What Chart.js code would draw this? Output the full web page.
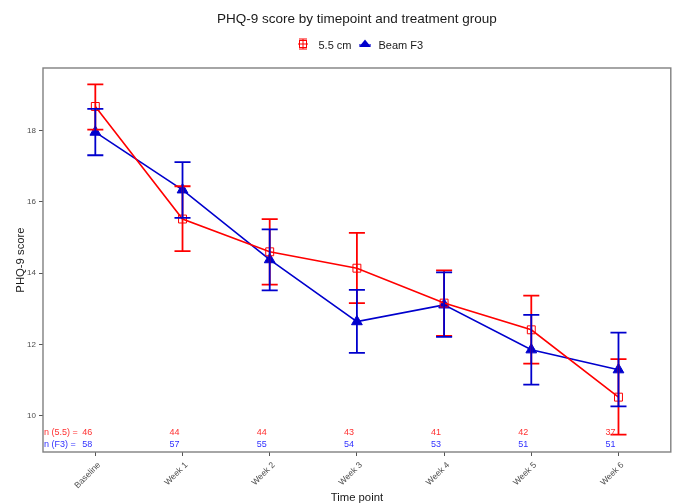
<!DOCTYPE html>
<html><head><meta charset="utf-8">
<script src="https://cdn.jsdelivr.net/npm/chart.js@4.4.1/dist/chart.umd.min.js"></script>
<style>html,body{margin:0;padding:0;background:#fff}#wrap{width:678px;height:503px}</style>
</head><body><div id="wrap"><canvas id="c" width="678" height="503"></canvas></div>
<script>
const timepoints = ['Baseline', 'Week 1', 'Week 2', 'Week 3', 'Week 4', 'Week 5', 'Week 6'];
const yTicks = [10, 12, 14, 16, 18];

const mean55  = [18.68, 15.52, 14.60, 14.14, 13.16, 12.41, 10.52];
const upper55 = [19.30, 16.44, 15.52, 15.13, 14.08, 13.37, 11.59];
const lower55 = [18.03, 14.62, 13.68, 13.16, 12.24, 11.46, 9.47];

const meanF3  = [17.96, 16.34, 14.38, 12.64, 13.11, 11.85, 11.29];
const upperF3 = [18.61, 17.12, 15.23, 13.53, 14.02, 12.83, 12.33];
const lowerF3 = [17.31, 15.55, 13.52, 11.76, 12.21, 10.87, 10.26];

const n55 = [46, 44, 44, 43, 41, 42, 37];
const nF3 = [58, 57, 55, 54, 53, 51, 51];

const FONT = '"Liberation Sans", Arial, sans-serif';
const RED = '#FF0000';
const BLUE = '#0000CD';

const decor = {
  id: 'decor',
  afterDatasetsDraw(chart) {
    const { ctx, scales: { x, y } } = chart;
    function bars(lo, hi, color) {
      ctx.save();
      ctx.strokeStyle = color;
      ctx.lineWidth = 1.8;
      lo.forEach((l, i) => {
        const h = hi[i];
        const px = x.getPixelForValue(i);
        const hw = x.getPixelForValue(i + 0.092) - px;
        const pl = y.getPixelForValue(l), ph = y.getPixelForValue(h);
        ctx.beginPath();
        ctx.moveTo(px, pl); ctx.lineTo(px, ph);
        ctx.moveTo(px - hw, pl); ctx.lineTo(px + hw, pl);
        ctx.moveTo(px - hw, ph); ctx.lineTo(px + hw, ph);
        ctx.stroke();
      });
      ctx.restore();
    }
    bars(lower55, upper55, RED);
    bars(lowerF3, upperF3, BLUE);

    // n labels
    ctx.save();
    ctx.font = '9px ' + FONT;
    ctx.textBaseline = 'middle';
    const yR = y.getPixelForValue(9.53), yB = y.getPixelForValue(9.20);
    ctx.textAlign = 'left';
    ctx.fillStyle = '#FF3030';
    ctx.fillText('n (5.5) =', chart.chartArea.left + 1, yR);
    ctx.fillStyle = '#3030FF';
    ctx.fillText('n (F3) =', chart.chartArea.left + 1, yB);
    ctx.textAlign = 'right';
    n55.forEach((n, i) => {
      ctx.fillStyle = '#FF3030';
      ctx.fillText(String(n), x.getPixelForValue(i) - 3, yR);
    });
    nF3.forEach((n, i) => {
      ctx.fillStyle = '#3030FF';
      ctx.fillText(String(n), x.getPixelForValue(i) - 3, yB);
    });
    ctx.restore();
  },
  afterDraw(chart) {
    const { ctx, chartArea: a } = chart;
    ctx.save();
    // panel border
    ctx.strokeStyle = '#808080';
    ctx.lineWidth = 1.4;
    ctx.strokeRect(a.left, a.top, a.right - a.left, a.bottom - a.top);

    const cx = (a.left + a.right) / 2;
    // title
    ctx.fillStyle = '#1a1a1a';
    ctx.textAlign = 'center';
    ctx.textBaseline = 'alphabetic';
    ctx.font = '13.5px ' + FONT;
    ctx.fillText('PHQ-9 score by timepoint and treatment group', cx, 23);

    // legend
    ctx.font = '11px ' + FONT;
    ctx.textAlign = 'left';
    const ly = 45;
    // red icon
    const rx = 303;
    ctx.strokeStyle = RED; ctx.lineWidth = 1;
    ctx.beginPath();
    ctx.moveTo(rx - 5, ly - 1); ctx.lineTo(rx + 5, ly - 1);
    ctx.moveTo(rx, ly - 6); ctx.lineTo(rx, ly + 4);
    ctx.moveTo(rx - 4, ly - 6); ctx.lineTo(rx + 4, ly - 6);
    ctx.moveTo(rx - 4, ly + 4); ctx.lineTo(rx + 4, ly + 4);
    ctx.stroke();
    ctx.strokeRect(rx - 3.5, ly - 4.5, 7, 7);
    ctx.fillStyle = '#1a1a1a';
    ctx.fillText('5.5 cm', 318.5, 49);
    // blue icon
    const bx = 365;
    ctx.strokeStyle = BLUE; ctx.lineWidth = 1.2;
    ctx.beginPath(); ctx.moveTo(bx - 6, ly); ctx.lineTo(bx + 6, ly); ctx.stroke();
    ctx.fillStyle = BLUE;
    ctx.beginPath();
    ctx.moveTo(bx, ly - 5.5); ctx.lineTo(bx + 6, ly + 2); ctx.lineTo(bx - 6, ly + 2); ctx.closePath();
    ctx.fill();
    ctx.fillStyle = '#1a1a1a';
    ctx.fillText('Beam F3', 378.5, 49);

    // axis titles
    ctx.font = '11.3px ' + FONT;
    ctx.textAlign = 'center';
    ctx.fillText('Time point', cx, 500.5);
    ctx.translate(24, (a.top + a.bottom) / 2);
    ctx.rotate(-Math.PI / 2);
    ctx.fillText('PHQ-9 score', 0, 0);
    ctx.restore();
  }
};

new Chart(document.getElementById('c'), {
  type: 'line',
  data: {
    datasets: [
      {
        label: '5.5 cm',
        data: mean55.map((v, i) => ({ x: i, y: v })),
        borderColor: RED, borderWidth: 1.6,
        pointStyle: 'rect', pointRadius: 5.6,
        pointBorderColor: RED, pointBackgroundColor: 'rgba(0,0,0,0)', pointBorderWidth: 1,
        tension: 0
      },
      {
        label: 'Beam F3',
        data: meanF3.map((v, i) => ({ x: i, y: v })),
        borderColor: BLUE, borderWidth: 1.6,
        pointStyle: 'triangle', pointRadius: 6.2,
        pointBorderColor: BLUE, pointBackgroundColor: BLUE, pointBorderWidth: 1,
        tension: 0
      }
    ]
  },
  options: {
    responsive: false, animation: false, devicePixelRatio: 1,
    layout: { padding: { top: 68, right: 5, bottom: 0, left: 0 } },
    plugins: { legend: { display: false }, title: { display: false }, tooltip: { enabled: false } },
    scales: {
      x: {
        type: 'linear', min: -0.6, max: 6.6,
        afterBuildTicks: s => { s.ticks = timepoints.map((_, i) => ({ value: i })); },
        afterFit: s => { s.height = 51; },
        ticks: {
          callback: (v) => timepoints[v],
          minRotation: 45, maxRotation: 45, autoSkip: false,
          font: { family: FONT, size: 8.6 }, color: '#4D4D4D', padding: 4, labelOffset: 4
        },
        grid: { drawOnChartArea: false, drawTicks: true, tickLength: 4, color: '#555' },
        border: { display: false }
      },
      y: {
        min: 8.98, max: 19.76,
        afterBuildTicks: s => { s.ticks = yTicks.map(v => ({ value: v })); },
        afterFit: s => { s.width = 43; },
        ticks: { font: { family: FONT, size: 8 }, color: '#4D4D4D', padding: 3 },
        grid: { drawOnChartArea: false, drawTicks: true, tickLength: 4, color: '#555' },
        border: { display: false }
      }
    }
  },
  plugins: [decor]
});
</script>
</body></html>
